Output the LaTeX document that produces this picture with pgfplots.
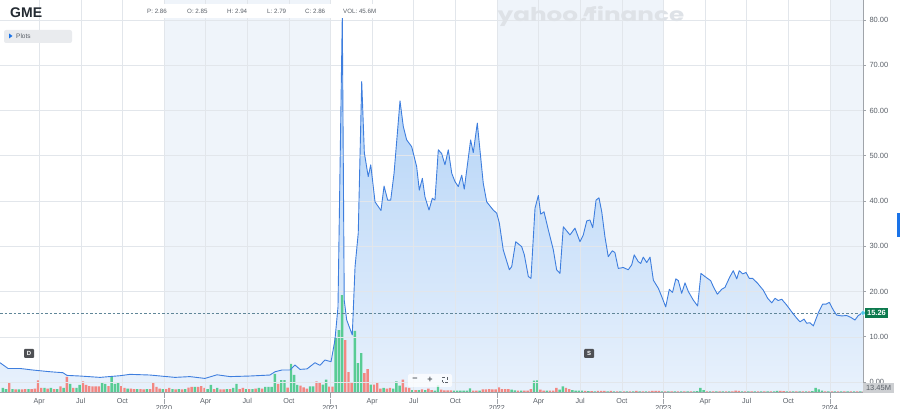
\documentclass[border=0pt]{standalone}
\usepackage{pgfplots}
\pgfplotsset{compat=1.18}
\usepackage{pgfplotstable}
\usepackage{fontspec}
\setmainfont{Liberation Sans}
\newfontfamily\wmfont{Poppins}
\definecolor{band}{RGB}{239,244,250}
\definecolor{gridc}{RGB}{226,230,235}
\definecolor{linec}{RGB}{62,126,222}
\definecolor{filltop}{RGB}{168,205,246}
\definecolor{fillbot}{RGB}{232,241,252}
\definecolor{upg}{RGB}{88,204,148}
\definecolor{dnr}{RGB}{242,135,130}
\definecolor{axisgray}{RGB}{160,164,170}
\definecolor{labgray}{RGB}{90,96,104}
\definecolor{pricegreen}{RGB}{12,122,78}
\definecolor{dashc}{RGB}{96,134,152}
\definecolor{cyanmark}{RGB}{80,196,232}
\definecolor{wmc}{RGB}{222,226,231}
\definecolor{tabblue}{RGB}{26,115,232}
\definecolor{dmark}{RGB}{78,80,84}
\definecolor{gmec}{RGB}{35,42,49}
\definecolor{btnc}{RGB}{233,235,238}
\definecolor{volbox}{RGB}{205,207,210}

% price (split-adjusted), x = months since Jan 2019
\pgfplotstableread{
m v
0.18 4.27
0.76 3.0
1.62 3.0
2.56 2.65
3.78 2.28
4.72 2.06
5.01 1.47
5.95 1.33
7.39 1.03
8.83 1.40
9.55 1.70
10.99 1.55
12.79 1.03
13.87 1.20
14.95 0.80
15.82 1.60
16.76 1.20
18.20 1.33
19.64 1.55
20.00 2.28
20.50 2.65
21.08 2.65
21.44 3.76
21.80 2.80
22.31 2.90
22.88 4.27
23.24 3.70
23.60 4.86
24.04 4.50
24.32 9.30
24.54 16.6
24.85 81.0
24.99 18.1
25.17 13.7
25.57 10.4
25.77 25.5
26.00 32.9
26.25 66.4
26.44 50.6
26.72 45.4
26.90 48.0
27.21 39.8
27.64 37.9
27.86 43.3
28.12 40.2
28.34 40.2
28.58 46.1
29.01 62.1
29.25 56.4
29.49 53.5
29.85 52.0
30.21 47.6
30.40 42.4
30.62 45.0
30.81 40.9
31.10 38.0
31.34 40.6
31.53 40.2
31.77 51.3
32.01 50.5
32.25 48.0
32.49 51.3
32.74 46.1
32.97 44.3
33.21 43.2
33.46 45.7
33.64 42.6
34.10 53.5
34.29 50.7
34.58 57.2
35.01 43.9
35.26 39.8
35.73 38.0
35.98 37.3
36.17 35.1
36.45 29.2
36.89 24.8
37.06 25.5
37.35 31.0
37.78 29.9
37.97 28.1
38.26 23.3
38.45 22.9
38.74 38.4
38.98 41.2
39.15 37.1
39.39 37.6
39.70 33.6
40.06 29.2
40.30 24.8
40.54 24.0
40.78 34.3
41.26 32.5
41.62 34.0
41.98 31.0
42.22 32.5
42.47 35.6
42.70 35.8
42.90 34.1
43.14 40.2
43.35 40.7
43.55 37.6
43.78 32.1
44.02 27.7
44.31 29.0
44.50 28.6
44.74 25.1
45.10 25.3
45.46 24.8
45.71 25.9
45.89 28.1
46.18 26.6
46.36 26.2
46.54 27.6
46.79 26.4
47.03 27.6
47.27 22.5
47.63 20.7
47.87 18.9
48.16 16.6
48.42 20.5
48.65 19.8
48.89 22.8
49.07 22.4
49.31 19.6
49.55 21.9
49.79 20.0
50.15 18.1
50.46 16.8
50.70 24.0
50.99 23.3
51.40 22.4
51.59 21.1
51.88 19.4
52.20 20.5
52.43 20.9
52.79 23.3
53.03 24.6
53.28 22.8
53.46 24.6
53.71 23.9
53.95 24.2
54.18 22.9
54.43 22.9
54.76 21.9
55.19 20.3
55.51 18.5
55.80 17.5
56.04 18.5
56.27 18.0
56.52 18.3
56.88 17.0
57.24 15.5
57.60 14.1
57.84 13.3
58.13 13.9
58.32 13.0
58.56 13.1
58.80 12.4
59.16 15.3
59.47 17.2
59.71 17.2
59.95 17.6
60.24 15.9
60.48 14.8
60.84 14.6
61.20 14.7
61.49 14.3
61.80 13.7
62.04 14.7
62.38 15.26
}\price

% weekly volume (millions), k = week index; up weeks
\pgfplotstableread{
k v
0 91
1 68
3 68
5 57
8 68
13 91
15 91
17 68
19 91
21 182
23 91
24 159
31 220
32 182
34 341
35 182
36 220
39 79
42 68
45 68
50 68
53 68
55 68
57 68
60 114
64 68
65 159
67 91
70 68
72 91
73 182
76 68
78 68
80 91
82 114
83 114
84 114
85 409
87 272
88 272
90 636
91 386
92 159
96 129
97 129
100 166
101 279
104 1226
105 1407
106 2202
110 1385
111 658
112 885
115 166
119 91
122 75
123 243
124 143
128 45
130 45
132 45
135 34
136 152
141 30
142 30
143 30
144 30
145 30
146 85
149 30
159 52
160 39
162 30
166 260
167 265
170 34
174 52
175 125
178 45
179 30
180 30
181 30
183 20
185 16
189 16
191 16
193 14
195 14
197 14
199 14
201 14
206 14
208 14
210 14
212 14
214 14
216 16
217 20
218 95
219 45
221 14
223 14
225 14
227 14
231 14
233 14
235 14
237 14
239 14
241 16
242 23
245 16
247 14
249 14
251 14
253 20
254 95
255 61
256 30
258 14
260 14
262 14
264 14
266 14
268 14
}\volup

% down weeks
\pgfplotstableread{
k v
2 227
4 57
6 57
7 68
9 68
10 79
11 266
12 91
14 79
16 68
18 129
20 341
22 91
25 243
26 159
27 136
28 129
29 129
30 129
33 136
37 136
38 91
40 79
41 68
43 68
44 57
46 68
47 220
48 114
49 79
51 68
52 91
54 57
56 57
58 102
59 114
61 114
62 136
63 91
66 68
68 57
69 57
71 68
74 68
75 91
77 68
79 79
81 79
86 182
89 102
93 143
94 107
95 75
98 243
99 227
102 120
103 120
107 1180
108 454
109 204
113 431
114 522
116 166
117 204
118 75
120 75
121 91
125 279
126 107
127 91
129 45
131 57
133 75
134 45
137 52
138 39
139 39
140 39
147 30
148 34
150 57
151 57
152 68
153 57
154 57
155 105
156 68
157 68
158 68
161 30
163 30
164 34
165 68
168 52
169 34
171 34
172 34
173 91
176 91
177 68
182 25
184 20
186 25
187 23
188 25
190 23
192 16
194 16
196 16
198 23
200 16
202 16
203 23
204 25
205 23
207 14
209 14
211 14
213 14
215 14
220 16
222 14
224 14
226 14
228 16
229 30
230 25
232 14
234 14
236 14
238 14
240 14
243 23
244 20
246 14
248 14
250 14
252 14
257 14
259 14
261 14
263 14
265 14
267 14
269 14
}\voldown

\pgfplotsset{gmebase/.style={scale only axis, width=863bp, height=392bp, xmin=0.18, xmax=62.38}}

\begin{document}
\begin{tikzpicture}
% ---- layer A: year bands + area fill
\begin{axis}[gmebase, ymin=-2.2, ymax=84.4, hide axis]
\addplot[draw=none, fill=band] coordinates {(12,-2.2) (24,-2.2) (24,84.4) (12,84.4)} -- cycle;
\addplot[draw=none, fill=band] coordinates {(36,-2.2) (48,-2.2) (48,84.4) (36,84.4)} -- cycle;
\addplot[draw=none, fill=band] coordinates {(60,-2.2) (62.38,-2.2) (62.38,84.4) (60,84.4)} -- cycle;
\addplot[draw=none, top color=filltop, bottom color=fillbot] table[x=m,y=v]{\price} -- (axis cs:62.38,-2.2) -- (axis cs:0.18,-2.2) -- cycle;
\end{axis}
% ---- layer B: volume bars
\begin{axis}[gmebase, ymin=0, ymax=8900, hide axis]
\addplot[ybar, bar width=2.4bp, bar shift=0pt, fill=upg, draw=none] table[x expr=0.389+0.2306*\thisrow{k}, y=v]{\volup};
\addplot[ybar, bar width=2.4bp, bar shift=0pt, fill=dnr, draw=none] table[x expr=0.389+0.2306*\thisrow{k}, y=v]{\voldown};
\end{axis}
% ---- layer C: grid, axes, price line
\begin{axis}[gmebase, ymin=-2.2, ymax=84.4,
  clip mode=individual,
  axis x line*=bottom, axis y line*=right,
  axis line style={draw=axisgray, line width=0.6bp, -},
  xtick pos=bottom, ytick pos=right, yticklabel pos=right,
  ytick={0,10,...,80},
  scaled y ticks=false,
  xtick={3,6,9,15,18,21,27,30,33,39,42,45,51,54,57},
  xticklabels={Apr,Jul,Oct,Apr,Jul,Oct,Apr,Jul,Oct,Apr,Jul,Oct,Apr,Jul,Oct},
  extra x ticks={12,24,36,48,60},
  extra x tick labels={2020,2021,2022,2023,2024},
  grid=major,
  grid style={draw=gridc, line width=0.5bp},
  tick align=outside,
  major tick length=3bp,
  xtick style={draw=none},
  ytick style={draw=axisgray, line width=0.6bp},
  extra x tick style={grid=major, major tick length=14bp,
     xtick style={draw=axisgray, densely dotted, line width=0.6bp},
     xticklabel style={yshift=4bp}},
  xticklabel style={font=\fontsize{7.2bp}{8bp}\selectfont, text=labgray},
  yticklabel style={font=\fontsize{7.5bp}{8bp}\selectfont, text=labgray, anchor=west,
     /pgf/number format/fixed, /pgf/number format/fixed zerofill,
     /pgf/number format/precision=2, /pgf/number format/assume math mode=true},
]
\addplot[dashc, line width=0.6bp, dash pattern=on 2.5bp off 2bp] coordinates {(0.18,15.26) (62.38,15.26)};
\addplot[linec, line width=0.9bp, mark=none, line join=round] table[x=m,y=v]{\price};
\addplot[only marks, mark=*, mark size=2.3bp, mark options={fill=cyanmark, draw=white, line width=0.4bp}] coordinates {(62.38,15.26)};
\end{axis}

% ---- decorations (pixel layout, y = 392 - px)
\fill[white] (140bp,388bp) rectangle (385bp,374bp);
\begin{scope}[every node/.style={anchor=west, inner sep=0pt, font=\fontsize{6.2bp}{7bp}\selectfont, text=labgray}]
\node at (147bp,381bp) {P: 2.86};
\node at (187bp,381bp) {O: 2.85};
\node at (227bp,381bp) {H: 2.94};
\node at (267bp,381bp) {L: 2.79};
\node at (305bp,381bp) {C: 2.86};
\node at (343bp,381bp) {VOL: 45.6M};
\end{scope}
\node[anchor=west, inner sep=0pt, font=\fontsize{14bp}{16bp}\selectfont\bfseries, text=gmec] at (10bp,379bp) {GME};
\fill[btnc, rounded corners=2bp] (4bp,362bp) rectangle (72bp,349bp);
\fill[tabblue] (9bp,358.5bp) -- (9bp,353.5bp) -- (12.5bp,356bp) -- cycle;
\node[anchor=west, inner sep=0pt, font=\fontsize{6.5bp}{7bp}\selectfont, text=labgray] at (16bp,355.5bp) {Plots};
\node[inner sep=0pt, text=wmc, xscale=1.3, font=\wmfont\bfseries\fontsize{19bp}{22bp}\selectfont] at (591bp,376bp) {yahoo{\addfontfeatures{FakeSlant=0.35}!}finance};
% dividend / split flags
\fill[dmark, rounded corners=1bp] (24bp,34bp) rectangle (34bp,43bp);
\node[inner sep=0pt, text=white, font=\fontsize{6bp}{7bp}\selectfont\bfseries] at (29bp,38.5bp) {D};
\fill[dmark, rounded corners=1bp] (584bp,34bp) rectangle (594bp,43bp);
\node[inner sep=0pt, text=white, font=\fontsize{6bp}{7bp}\selectfont\bfseries] at (589bp,38.5bp) {S};
% zoom controls
\fill[white, opacity=0.75, rounded corners=2bp] (408bp,18bp) rectangle (452bp,5bp);
\node[inner sep=0pt, text=labgray, font=\fontsize{9bp}{10bp}\selectfont\bfseries] at (415bp,12bp) {−};
\node[inner sep=0pt, text=labgray, font=\fontsize{9bp}{10bp}\selectfont\bfseries] at (430bp,12bp) {+};
\draw[labgray, line width=0.5bp, densely dashed] (442.5bp,9.5bp) rectangle (447.5bp,14.5bp);
% last price and volume tags
\fill[pricegreen] (865bp,74bp) rectangle (888bp,84bp);
\node[inner sep=0pt, text=white, font=\fontsize{7.5bp}{8bp}\selectfont\bfseries] at (876.5bp,79bp) {15.26};
\fill[volbox] (863bp,-1bp) rectangle (894bp,9bp);
\node[inner sep=0pt, text=labgray, font=\fontsize{7.5bp}{8bp}\selectfont] at (878.5bp,4bp) {13.45M};
\fill[tabblue] (897bp,155bp) rectangle (900bp,179bp);

\pgfresetboundingbox
\useasboundingbox (0bp,-17bp) rectangle (900bp,392bp);
\end{tikzpicture}
\end{document}
